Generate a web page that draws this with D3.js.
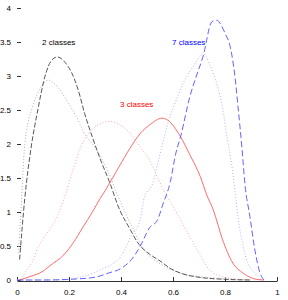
<!DOCTYPE html>
<html>
<head>
<meta charset="utf-8">
<script src="https://cdn.jsdelivr.net/npm/d3@7"></script>
<style>
  body { margin: 0; background: #fff; }
  text { font-family: "Liberation Sans", Arial, sans-serif; }
</style>
</head>
<body>
<div id="chart"></div>
<script>
// 2 classes
var x2a = [0.01, 0.03, 0.054, 0.08, 0.108, 0.135, 0.155, 0.185, 0.21, 0.235, 0.26, 0.29, 0.32, 0.355, 0.395, 0.43, 0.47, 0.51, 0.55, 0.59, 0.63, 0.7, 0.8, 0.9];
var y2a = [0.3, 1.2, 1.94, 2.5, 3.0, 3.24, 3.28, 3.2, 3.05, 2.8, 2.45, 2.1, 1.78, 1.45, 1.03, 0.78, 0.52, 0.38, 0.28, 0.17, 0.1, 0.04, 0.01, 0];
var x2b = [0.005, 0.015, 0.03, 0.06, 0.09, 0.12, 0.16, 0.19, 0.235, 0.26, 0.3, 0.35, 0.39, 0.435, 0.49, 0.56, 0.63, 0.7, 0.8, 0.9];
var y2b = [0.4, 1.0, 2.0, 2.55, 2.82, 2.94, 2.82, 2.65, 2.35, 2.15, 1.95, 1.6, 1.22, 0.84, 0.44, 0.22, 0.1, 0.05, 0.02, 0];

// 3 classes
var x3a = [0.01, 0.05, 0.1, 0.13, 0.18, 0.215, 0.254, 0.29, 0.32, 0.34, 0.39, 0.435, 0.475, 0.51, 0.558, 0.58, 0.627, 0.665, 0.705, 0.73, 0.755, 0.79, 0.83, 0.87, 0.92, 0.95];
var y3a = [0, 0.05, 0.13, 0.22, 0.37, 0.54, 0.78, 1.0, 1.2, 1.32, 1.65, 1.94, 2.16, 2.28, 2.38, 2.35, 2.12, 1.84, 1.52, 1.25, 1.03, 0.6, 0.25, 0.1, 0.01, 0];
var x3b = [0.015, 0.038, 0.062, 0.08, 0.1, 0.154, 0.19, 0.21, 0.24, 0.3, 0.358, 0.4, 0.435, 0.473, 0.51, 0.55, 0.615, 0.665, 0.7, 0.74, 0.8, 0.9];
var y3b = [0, 0.15, 0.29, 0.47, 0.6, 0.93, 1.3, 1.55, 1.9, 2.25, 2.33, 2.27, 2.16, 1.96, 1.76, 1.43, 0.98, 0.63, 0.4, 0.15, 0.04, 0];

// 7 classes
var x7a = [0.0, 0.1, 0.2, 0.3, 0.35, 0.4, 0.44, 0.473, 0.51, 0.54, 0.56, 0.59, 0.61, 0.63, 0.665, 0.69, 0.715, 0.75, 0.77, 0.78, 0.8, 0.82, 0.838, 0.85, 0.865, 0.877, 0.896, 0.915, 0.935, 0.95];
var y7a = [0, 0, 0.01, 0.04, 0.1, 0.17, 0.3, 0.49, 0.77, 0.88, 1.1, 1.45, 1.85, 2.12, 2.7, 3.0, 3.28, 3.8, 3.82, 3.78, 3.63, 3.43, 3.0, 2.55, 1.95, 1.4, 0.93, 0.44, 0.1, 0];
var x7b = [0.0, 0.15, 0.2, 0.27, 0.32, 0.36, 0.4, 0.44, 0.473, 0.49, 0.52, 0.55, 0.58, 0.62, 0.64, 0.68, 0.716, 0.74, 0.77, 0.79, 0.81, 0.827, 0.838, 0.85, 0.87, 0.888, 0.915, 0.94];
var y7b = [0, 0, 0.01, 0.07, 0.15, 0.22, 0.35, 0.65, 0.88, 1.22, 1.4, 1.85, 2.3, 2.72, 2.9, 3.15, 3.33, 3.18, 2.86, 2.55, 2.05, 1.66, 1.32, 0.93, 0.49, 0.25, 0.1, 0];

var xTicks = [0, 0.2, 0.4, 0.6, 0.8, 1];
var yTicks = [0, 0.5, 1, 1.5, 2, 2.5, 3, 3.5, 4];
var labels = ["2 classes", "3 classes", "7 classes"];

var width = 288, height = 300;
var margin = { top: 8, right: 11, bottom: 20, left: 17 };

var svg = d3.select("#chart").append("svg")
  .attr("width", width)
  .attr("height", height);

var x = d3.scaleLinear().domain([0, 1]).range([margin.left, width - margin.right]);
var y = d3.scaleLinear().domain([0, 4]).range([height - margin.bottom, margin.top]);

// x axis, ticks pointing inward
var xAxis = svg.append("g")
  .attr("transform", "translate(0," + (height - margin.bottom + 1) + ")")
  .call(d3.axisBottom(x).tickValues(xTicks).tickSizeInner(-4).tickSizeOuter(0).tickPadding(8)
    .tickFormat(d3.format("")));
xAxis.select(".domain").attr("stroke", "#333");
xAxis.selectAll(".tick line").attr("stroke", "#333");
xAxis.selectAll("text").attr("font-size", "8px").attr("fill", "#000")
  .attr("font-family", "Liberation Sans, Arial, sans-serif");

// y axis, only ticks and labels
var yAxis = svg.append("g")
  .attr("transform", "translate(" + margin.left + ",0)")
  .call(d3.axisLeft(y).tickValues(yTicks).tickSizeInner(-4).tickSizeOuter(0).tickPadding(6)
    .tickFormat(d3.format("")));
yAxis.select(".domain").remove();
yAxis.selectAll(".tick line").attr("stroke", "#333");
yAxis.selectAll("text").attr("font-size", "8px").attr("fill", "#000")
  .attr("font-family", "Liberation Sans, Arial, sans-serif");

var line = d3.line()
  .x(function (d) { return x(d[0]); })
  .y(function (d) { return y(d[1]); })
  .curve(d3.curveMonotoneX);

function addSeries(xs, ys, color, dash, w) {
  svg.append("path")
    .datum(d3.zip(xs, ys))
    .attr("d", line)
    .attr("fill", "none")
    .attr("stroke", color)
    .attr("stroke-width", w)
    .attr("stroke-dasharray", dash);
}

addSeries(x2b, y2b, "#b0b0b0", "1,2", 1);
addSeries(x3b, y3b, "#ffaaaa", "1,2", 1);
addSeries(x7b, y7b, "#b0b0ff", "1,2", 1);
addSeries(x3a, y3a, "#ff5a5a", null, 0.9);
addSeries(x2a, y2a, "#444444", "5,2", 0.9);
addSeries(x7a, y7a, "#5050ff", "6,3", 0.9);

// class labels
svg.append("text").attr("x", 42).attr("y", 45).attr("font-size", "8px").attr("fill", "#000").text(labels[0]);
svg.append("text").attr("x", 120).attr("y", 107).attr("font-size", "8px").attr("fill", "#ff0000").text(labels[1]);
svg.append("text").attr("x", 172).attr("y", 45).attr("font-size", "8px").attr("fill", "#0000ff").text(labels[2]);
</script>
</body>
</html>
